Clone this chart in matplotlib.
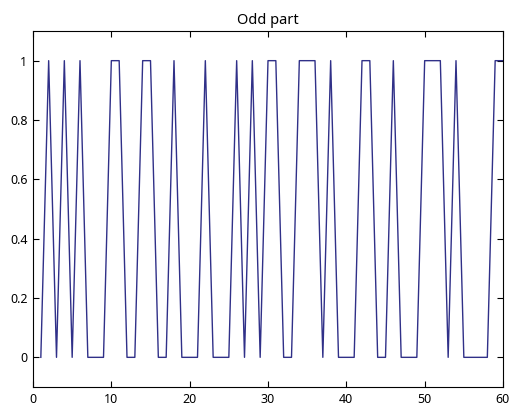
import matplotlib
matplotlib.use('Agg')
import matplotlib.pyplot as plt
import numpy as np

# sample index and the 0/1 value at each index
n = np.arange(1, 61)
values = [0, 1, 0, 1, 0, 1, 0, 0, 0, 1,
          1, 0, 0, 1, 1, 0, 0, 1, 0, 0,
          0, 1, 0, 0, 0, 1, 0, 1, 0, 1,
          1, 0, 0, 1, 1, 1, 0, 1, 0, 0,
          0, 1, 1, 0, 0, 1, 0, 0, 0, 1,
          1, 1, 0, 1, 0, 0, 0, 0, 1, 1]

x_ticks = [0, 10, 20, 30, 40, 50, 60]
y_ticks = [0, 0.2, 0.4, 0.6, 0.8, 1]

plt.rcParams['font.family'] = ['Noto Sans', 'DejaVu Sans']

fig = plt.figure(figsize=(5.09, 4.07), dpi=100)
ax = fig.add_axes([33 / 509, 1 - 387 / 407, 470 / 509, 356 / 407])

ax.plot(n, values, color='#303088', linewidth=1.0)

ax.set_xlim(0, 60)
ax.set_ylim(-0.1, 1.1)
ax.set_xticks(x_ticks)
ax.set_yticks(y_ticks)
ax.set_xticklabels([str(v) for v in x_ticks])
ax.set_yticklabels(['0', '0.2', '0.4', '0.6', '0.8', '1'])
ax.tick_params(direction='in', top=True, right=True, length=4, width=0.8,
               labelsize=9, colors='black', pad=4)
for s in ax.spines.values():
    s.set_linewidth(0.8)
ax.set_title('Odd part', fontsize=10.5, pad=5)

fig.savefig('out.png', dpi=100)
